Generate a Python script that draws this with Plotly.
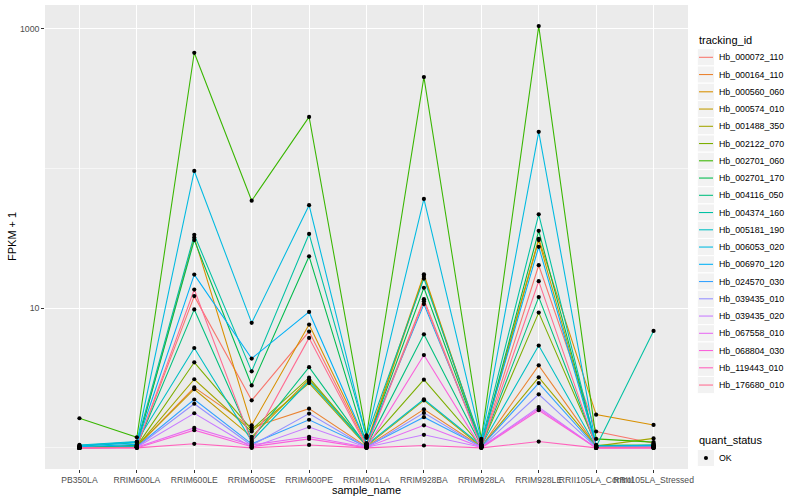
import plotly.graph_objects as go

# ---------------- data (FPKM + 1) ----------------
samples = ["PB350LA", "RRIM600LA", "RRIM600LE", "RRIM600SE", "RRIM600PE",
           "RRIM901LA", "RRIM928BA", "RRIM928LA", "RRIM928LE",
           "RRII105LA_Control", "RRII105LA_Stressed"]

tracking_ids = ["Hb_000072_110", "Hb_000164_110", "Hb_000560_060", "Hb_000574_010",
                "Hb_001488_350", "Hb_002122_070", "Hb_002701_060", "Hb_002701_170",
                "Hb_004116_050", "Hb_004374_160", "Hb_005181_190", "Hb_006053_020",
                "Hb_006970_120", "Hb_024570_030", "Hb_039435_010", "Hb_039435_020",
                "Hb_067558_010", "Hb_068804_030", "Hb_119443_010", "Hb_176680_010"]

colors = ["#F8766D", "#EA8331", "#D89000", "#C09B00", "#A3A500", "#7CAE00",
          "#39B600", "#00BB4E", "#00BF7D", "#00C1A3", "#00BFC4", "#00BAE0",
          "#00B0F6", "#35A2FF", "#9590FF", "#C77CFF", "#E76BF3", "#FA62DB",
          "#FF62BC", "#FF6C91"]

Hb_000072_110 = [1.00, 1.02, 12.2, 2.19, 6.80, 1.04, 11.6, 1.03, 20.3, 1.31, 1.08]
Hb_000164_110 = [1.00, 1.02, 2.71, 1.40, 1.91, 1.02, 1.89, 1.02, 3.90, 1.03, 1.02]
Hb_000560_060 = [1.01, 1.04, 32.0, 1.45, 7.63, 1.08, 17.5, 1.06, 31.4, 1.73, 1.46]
Hb_000574_010 = [1.00, 1.03, 2.63, 1.20, 3.10, 1.04, 17.0, 1.04, 30.7, 1.04, 1.03]
Hb_001488_350 = [1.00, 1.02, 3.10, 1.31, 2.91, 1.03, 2.19, 1.02, 3.20, 1.03, 1.17]
Hb_002122_070 = [1.00, 1.03, 4.10, 1.35, 3.18, 1.05, 3.08, 1.03, 9.30, 1.05, 1.04]
Hb_002701_060 = [1.63, 1.19, 673., 58.8, 234., 1.23, 451., 1.16, 1045., 1.16, 1.10]
Hb_002701_170 = [1.00, 1.04, 30.7, 2.80, 23.5, 1.06, 14.0, 1.05, 35.8, 1.04, 1.05]
Hb_004116_050 = [1.00, 1.03, 9.80, 1.16, 3.78, 1.03, 6.50, 1.03, 12.0, 1.03, 1.04]
Hb_004374_160 = [1.03, 1.09, 33.5, 3.53, 34.0, 1.20, 16.3, 1.10, 47.0, 1.02, 6.87]
Hb_005181_190 = [1.05, 1.11, 5.19, 1.12, 3.01, 1.05, 2.23, 1.04, 5.40, 1.02, 1.05]
Hb_006053_020 = [1.04, 1.10, 96.0, 7.85, 54.6, 1.18, 60.5, 1.13, 183., 1.03, 1.04]
Hb_006970_120 = [1.02, 1.06, 17.4, 4.36, 9.40, 1.08, 10.7, 1.06, 27.5, 1.02, 1.03]
Hb_024570_030 = [1.00, 1.02, 2.22, 1.07, 1.59, 1.02, 1.66, 1.02, 2.91, 1.01, 1.02]
Hb_039435_010 = [1.00, 1.01, 2.07, 1.04, 1.76, 1.01, 1.78, 1.01, 2.42, 1.01, 1.01]
Hb_039435_020 = [1.00, 1.01, 1.77, 1.01, 1.41, 1.01, 1.24, 1.01, 1.96, 1.00, 1.01]
Hb_067558_010 = [1.00, 1.01, 1.39, 1.05, 1.20, 1.01, 1.45, 1.01, 1.91, 1.00, 1.00]
Hb_068804_030 = [1.00, 1.00, 1.34, 1.02, 1.16, 1.00, 4.62, 1.00, 1.86, 1.00, 1.00]
Hb_119443_010 = [1.00, 1.00, 1.07, 1.00, 1.05, 1.00, 1.04, 1.00, 1.11, 1.00, 1.00]
Hb_176680_010 = [1.00, 1.01, 13.6, 1.10, 6.13, 1.02, 11.2, 1.02, 15.6, 1.01, 1.01]

series = [Hb_000072_110, Hb_000164_110, Hb_000560_060, Hb_000574_010, Hb_001488_350,
          Hb_002122_070, Hb_002701_060, Hb_002701_170, Hb_004116_050, Hb_004374_160,
          Hb_005181_190, Hb_006053_020, Hb_006970_120, Hb_024570_030, Hb_039435_010,
          Hb_039435_020, Hb_067558_010, Hb_068804_030, Hb_119443_010, Hb_176680_010]

quant_levels = ["OK"]

# ---------------- layout geometry ----------------
W, H = 800, 500
ML, MR, MT, MB = 45, 112, 5, 31
PW, PH = W - ML - MR, H - MT - MB
FONT = "Liberation Sans, Arial, sans-serif"


def fx(px):
    return (px - ML) / PW


def fy(py):
    return (H - MB - py) / PH


fig = go.Figure()

for name, col, vals in zip(tracking_ids, colors, series):
    fig.add_trace(go.Scatter(x=samples, y=vals, mode="lines", name=name,
                             line=dict(color=col, width=1.07),
                             showlegend=False, hoverinfo="skip"))

all_x, all_y = [], []
for vals in series:
    all_x += samples
    all_y += vals
fig.add_trace(go.Scatter(x=all_x, y=all_y, mode="markers", name="OK",
                         marker=dict(color="black", size=4.2),
                         showlegend=False))

# ---------------- manual ggplot-style legends ----------------
shapes, annos = [], []
annos.append(dict(x=fx(697), y=fy(40), xref="paper", yref="paper", text="tracking_id",
                  showarrow=False, xanchor="left", yanchor="middle",
                  font=dict(size=11, color="black", family=FONT)))
for i, (name, col) in enumerate(zip(tracking_ids, colors)):
    yc = 57.3 + i * 17.25
    shapes.append(dict(type="rect", xref="paper", yref="paper",
                       x0=fx(697.3), x1=fx(714.6), y0=fy(yc - 8.6), y1=fy(yc + 8.6),
                       fillcolor="#F2F2F2", line=dict(color="white", width=1), layer="above"))
    shapes.append(dict(type="line", xref="paper", yref="paper",
                       x0=fx(699), x1=fx(713), y0=fy(yc), y1=fy(yc),
                       line=dict(color=col, width=1.07), layer="above"))
    annos.append(dict(x=fx(717), y=fy(yc), xref="paper", yref="paper", text=name,
                      showarrow=False, xanchor="left", yanchor="middle",
                      font=dict(size=8.8, color="black", family=FONT)))

annos.append(dict(x=fx(697), y=fy(440), xref="paper", yref="paper", text="quant_status",
                  showarrow=False, xanchor="left", yanchor="middle",
                  font=dict(size=11, color="black", family=FONT)))
for j, lev in enumerate(quant_levels):
    yc = 458 + j * 17.25
    shapes.append(dict(type="rect", xref="paper", yref="paper",
                       x0=fx(697.3), x1=fx(714.6), y0=fy(yc - 8.6), y1=fy(yc + 8.6),
                       fillcolor="#F2F2F2", line=dict(color="white", width=1), layer="above"))
    shapes.append(dict(type="circle", xref="paper", yref="paper",
                       x0=fx(703.9), x1=fx(708.0), y0=fy(yc + 2.05), y1=fy(yc - 2.05),
                       fillcolor="black", line=dict(color="black", width=0), layer="above"))
    annos.append(dict(x=fx(717), y=fy(yc), xref="paper", yref="paper", text=lev,
                      showarrow=False, xanchor="left", yanchor="middle",
                      font=dict(size=8.8, color="black", family=FONT)))

# axis titles
annos.append(dict(x=0.5, y=fy(490), xref="paper", yref="paper", text="sample_name",
                  showarrow=False, xanchor="center", yanchor="middle",
                  font=dict(size=11, color="black", family=FONT)))
annos.append(dict(x=fx(12), y=0.5, xref="paper", yref="paper", text="FPKM + 1",
                  showarrow=False, xanchor="center", yanchor="middle", textangle=-90,
                  font=dict(size=11, color="black", family=FONT)))

fig.update_layout(
    width=W, height=H,
    margin=dict(l=ML, r=MR, t=MT, b=MB),
    paper_bgcolor="white", plot_bgcolor="#EBEBEB",
    font=dict(family=FONT, size=8.8, color="#4D4D4D"),
    showlegend=False,
    shapes=shapes, annotations=annos,
    xaxis=dict(type="category", categoryorder="array", categoryarray=samples,
               range=[-0.6, len(samples) - 0.4], tickangle=0,
               showgrid=True, gridcolor="white", gridwidth=1.07,
               ticks="outside", ticklen=2.5, tickwidth=1.07, tickcolor="#333333",
               tickfont=dict(size=8.6, color="#4D4D4D", family=FONT),
               zeroline=False, showline=False, fixedrange=True),
    yaxis=dict(type="log", range=[-0.151, 3.170],
               tickvals=[10, 1000], ticktext=["10", "1000"],
               showgrid=True, gridcolor="white", gridwidth=1.07,
               minor=dict(tickvals=[1, 100], showgrid=True, gridcolor="white",
                          gridwidth=0.55, ticks=""),
               ticks="outside", ticklen=2.75, tickwidth=1.07, tickcolor="#333333",
               tickfont=dict(size=8.8, color="#4D4D4D", family=FONT),
               zeroline=False, showline=False, fixedrange=True),
)

# remove the browser's default page margin so the 800x500 figure fills the window
fig.write_html("out.html",
               config={"displayModeBar": False, "staticPlot": True},
               post_script="document.body.style.margin='0';document.body.style.padding='0';")
